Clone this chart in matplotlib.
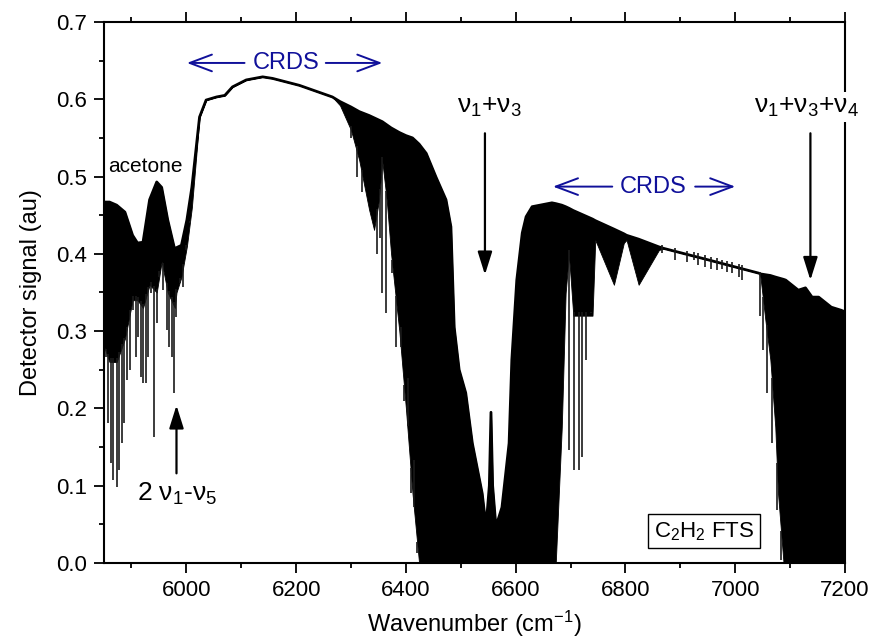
import matplotlib
matplotlib.use('Agg')
import matplotlib.pyplot as plt
from matplotlib.ticker import MultipleLocator, FormatStrFormatter
import numpy as np

plt.rcParams['font.family'] = ['Liberation Sans', 'DejaVu Sans']
plt.rcParams['mathtext.fontset'] = 'custom'
plt.rcParams['mathtext.rm'] = 'Liberation Sans'
plt.rcParams['mathtext.it'] = 'Liberation Sans:italic'

# Огибающая спектра: верхний край и нижний край сплошной чёрной полосы
band_wn = [5850, 5860, 5873, 5888, 5902, 5911, 5921, 5933, 5946, 5955,
           5966, 5979, 5982, 5991, 6001, 6010, 6024, 6036, 6055, 6070,
           6084, 6109, 6139, 6157, 6206, 6266, 6280, 6300, 6315, 6333,
           6342, 6351, 6357, 6365, 6373, 6388, 6400, 6412, 6424, 6437,
           6455, 6473, 6482, 6484, 6488, 6497, 6509, 6521, 6539, 6546,
           6552, 6555, 6558, 6564, 6575, 6588, 6593, 6602, 6612, 6619,
           6630, 6666, 6673, 6684, 6691, 6697, 6705, 6740, 6745, 6779,
           6797, 6802, 6824, 6861, 6870, 6952, 7043, 7046, 7055, 7064,
           7073, 7078, 7088, 7092, 7115, 7128, 7140, 7152, 7175, 7193, 7200]
band_top = [0.467, 0.467, 0.463, 0.454, 0.424, 0.414, 0.415, 0.470, 0.493, 0.486,
            0.444, 0.405, 0.408, 0.411, 0.444, 0.486, 0.577, 0.599, 0.603, 0.605,
            0.616, 0.625, 0.629, 0.627, 0.618, 0.603, 0.597, 0.590, 0.584, 0.579,
            0.576, 0.573, 0.571, 0.567, 0.563, 0.557, 0.553, 0.550, 0.542, 0.530,
            0.499, 0.470, 0.435, 0.392, 0.305, 0.250, 0.220, 0.155, 0.090, 0.047,
            0.100, 0.195, 0.100, 0.047, 0.072, 0.155, 0.263, 0.366, 0.427, 0.448,
            0.461, 0.466, 0.465, 0.463, 0.461, 0.459, 0.456, 0.445, 0.443, 0.432,
            0.426, 0.424, 0.419, 0.409, 0.407, 0.392, 0.375, 0.374, 0.373, 0.372,
            0.370, 0.369, 0.367, 0.366, 0.353, 0.356, 0.344, 0.344, 0.331, 0.327, 0.325]
band_bot = [0.28, 0.26, 0.26, 0.29, 0.34, 0.34, 0.33, 0.36, 0.35, 0.39,
            0.35, 0.33, 0.35, 0.37, 0.41, 0.46, 0.577, 0.599, 0.603, 0.605,
            0.616, 0.625, 0.629, 0.627, 0.618, 0.603, 0.592, 0.560, 0.521, 0.457,
            0.431, 0.470, 0.520, 0.470, 0.400, 0.300, 0.200, 0.090, 0.0, 0.0,
            0.0, 0.0, 0.0, 0.0, 0.0, 0.0, 0.0, 0.0, 0.0, 0.0,
            0.0, 0.0, 0.0, 0.0, 0.0, 0.0, 0.0, 0.0, 0.0, 0.0,
            0.0, 0.0, 0.0, 0.176, 0.349, 0.400, 0.320, 0.320, 0.418, 0.360,
            0.414, 0.418, 0.360, 0.405, 0.407, 0.392, 0.375, 0.370, 0.314, 0.263,
            0.176, 0.090, 0.0, 0.0, 0.0, 0.0, 0.0, 0.0, 0.0, 0.0, 0.0]

# Отдельные разрешённые линии поглощения: положение и минимум сигнала
line_wn = [5854, 5857, 5862, 5866, 5873, 5877, 5882, 5886, 5891, 5897,
           5903, 5908, 5912, 5917, 5921, 5926, 5930, 5935, 5941, 5946,
           5951, 5957, 5964, 5968, 5973, 5977, 5982, 5988, 5994, 6000, 6006,
           6300, 6310, 6320, 6325, 6347, 6352,
           6357, 6364, 6375, 6382, 6391, 6397, 6403, 6409, 6415, 6421,
           6697, 6706, 6715, 6721, 6728, 6737,
           6867, 6891, 6912, 6924, 6933, 6945, 6955, 6967, 6976, 6985,
           6994, 7006, 7012,
           7045, 7051, 7057, 7067, 7076, 7084]
line_min = [0.266, 0.181, 0.129, 0.107, 0.098, 0.120, 0.155, 0.181, 0.237, 0.250,
            0.327, 0.266, 0.292, 0.241, 0.233, 0.233, 0.266, 0.349, 0.163, 0.310,
            0.370, 0.353, 0.301, 0.279, 0.266, 0.220, 0.318, 0.362, 0.357, 0.405, 0.440,
            0.550, 0.500, 0.480, 0.490, 0.400, 0.420,
            0.349, 0.323, 0.375, 0.280, 0.305, 0.210, 0.240, 0.090, 0.133, 0.013,
            0.146, 0.120, 0.120, 0.137, 0.263, 0.323,
            0.401, 0.392, 0.390, 0.392, 0.386, 0.383, 0.381, 0.379, 0.381, 0.377,
            0.375, 0.370, 0.366,
            0.319, 0.276, 0.220, 0.155, 0.069, 0.004]

blue = '#10109a'

fig = plt.figure(figsize=(8.75, 6.41), dpi=100)
ax = fig.add_axes([0.1189, 0.1217, 0.8468, 0.8440])

ax.fill_between(band_wn, band_bot, band_top, color='black', lw=0.6)
ax.plot(band_wn, band_top, color='black', lw=2.0)
line_top = np.interp(line_wn, band_wn, band_bot) + 0.005
ax.vlines(line_wn, line_min, line_top, color='#1a1a1a', lw=1.2)

# Подписи полос
ax.text(5857, 0.513, 'acetone', fontsize=15, ha='left', va='center')
ax.text(5910, 0.09, '2 ν$_1$-ν$_5$', fontsize=19, ha='left', va='center')
ax.text(6552, 0.582, 'ν$_1$+ν$_3$', fontsize=19, ha='center', va='baseline')
ax.text(7034, 0.582, 'ν$_1$+ν$_3$+ν$_4$', fontsize=19, ha='left', va='baseline',
        clip_on=False, zorder=5,
        bbox=dict(facecolor='white', edgecolor='none', pad=2))
ax.text(6943, 0.041, 'C$_2$H$_2$ FTS', fontsize=16, ha='center', va='center',
        bbox=dict(facecolor='white', edgecolor='black', lw=1.0, pad=4))

arrow_k = dict(arrowstyle='-|>,head_length=0.7,head_width=0.22', color='black',
               lw=1.6, mutation_scale=20, shrinkA=0, shrinkB=0)
ax.annotate('', xy=(5982, 0.204), xytext=(5982, 0.116), arrowprops=arrow_k)
ax.annotate('', xy=(6544, 0.373), xytext=(6544, 0.556), arrowprops=arrow_k)
ax.annotate('', xy=(7137, 0.366), xytext=(7137, 0.556), arrowprops=arrow_k)

# Диапазоны CRDS
arrow_b = dict(arrowstyle='->,head_length=0.8,head_width=0.3', color=blue,
               lw=1.4, mutation_scale=20, shrinkA=0, shrinkB=0)
ax.text(6182, 0.647, 'CRDS', fontsize=17, color=blue, ha='center', va='center')
ax.annotate('', xy=(6001, 0.647), xytext=(6106, 0.647), arrowprops=arrow_b)
ax.annotate('', xy=(6357, 0.647), xytext=(6254, 0.647), arrowprops=arrow_b)
ax.text(6850, 0.487, 'CRDS', fontsize=17, color=blue, ha='center', va='center')
ax.annotate('', xy=(6668, 0.487), xytext=(6776, 0.487), arrowprops=arrow_b)
ax.annotate('', xy=(7000, 0.487), xytext=(6927, 0.487), arrowprops=arrow_b)

# Оси
ax.set_xlim(5850, 7200)
ax.set_ylim(0, 0.7)
ax.xaxis.set_major_locator(MultipleLocator(200))
ax.xaxis.set_minor_locator(MultipleLocator(100))
ax.yaxis.set_major_locator(MultipleLocator(0.1))
ax.yaxis.set_minor_locator(MultipleLocator(0.05))
ax.yaxis.set_major_formatter(FormatStrFormatter('%.1f'))
ax.tick_params(which='both', direction='out', top=True, right=False,
               labelsize=16, width=1.3)
ax.tick_params(which='major', length=7)
ax.tick_params(which='minor', length=3.5)
ax.tick_params(axis='x', pad=5)
ax.tick_params(axis='y', pad=5)
for spine in ax.spines.values():
    spine.set_linewidth(1.5)

ax.set_xlabel('Wavenumber (cm$^{-1}$)', fontsize=17, labelpad=6)
ax.set_ylabel('Detector signal (au)', fontsize=17, labelpad=10)

fig.savefig('out.png', dpi=100, facecolor='white')
